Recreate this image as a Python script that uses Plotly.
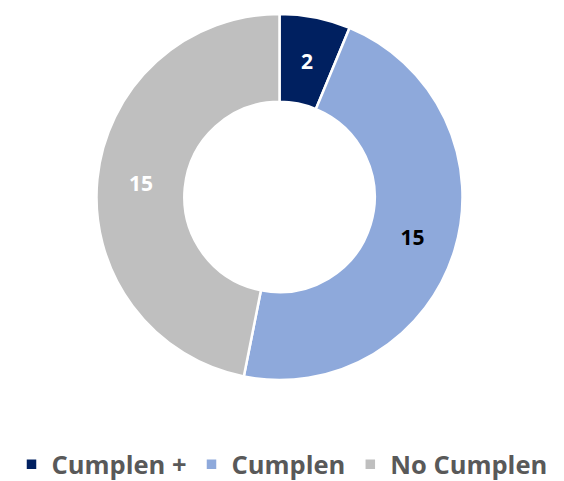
import math
import plotly.graph_objects as go

categories = ["Cumplen +", "Cumplen", "No Cumplen"]
values = [2, 15, 15]
colors = ["#002060", "#8EA9DB", "#BFBFBF"]
label_colors = ["#FFFFFF", "#000000", "#FFFFFF"]

W, H = 564, 481
MARGIN_T, MARGIN_B = 14, 101
DOMAIN_X = [96 / W, 463 / W]
HOLE = 0.52
LABEL_FONT = dict(family="Open Sans", size=21, weight="bold")

# The thin first slice gets its value drawn as an annotation at the middle of
# the ring (plotly would push it to the outer rim); the others use the trace text.
text_pos = ["none", "inside", "inside"]

fig = go.Figure(
    go.Pie(
        labels=categories,
        values=values,
        hole=HOLE,
        sort=False,
        direction="clockwise",
        rotation=0,
        domain=dict(x=DOMAIN_X, y=[0, 1]),
        marker=dict(colors=colors, line=dict(color="#FFFFFF", width=2.5)),
        textinfo="value",
        textposition=text_pos,
        insidetextorientation="horizontal",
        textfont=dict(color=label_colors, **LABEL_FONT),
        hoverinfo="label+value",
    )
)

# geometry of the ring in paper coordinates
plot_h = H - MARGIN_T - MARGIN_B
dom_w_px = (DOMAIN_X[1] - DOMAIN_X[0]) * W
radius_px = min(dom_w_px, plot_h) / 2
cx = (DOMAIN_X[0] + DOMAIN_X[1]) / 2
cy = 0.5
mid_r = radius_px * (1 + HOLE) / 2
total = sum(values)
theta = 2 * math.pi * (values[0] / 2) / total  # clockwise from 12 o'clock

fig.add_annotation(
    x=cx + mid_r * math.sin(theta) / W,
    y=cy + mid_r * math.cos(theta) / plot_h,
    xref="paper",
    yref="paper",
    text=str(values[0]),
    showarrow=False,
    font=dict(color=label_colors[0], **LABEL_FONT),
    xanchor="center",
    yanchor="middle",
)

fig.update_layout(
    width=W,
    height=H,
    margin=dict(l=0, r=0, t=MARGIN_T, b=MARGIN_B),
    paper_bgcolor="#FFFFFF",
    plot_bgcolor="#FFFFFF",
    showlegend=True,
    legend=dict(
        orientation="h",
        x=0.5,
        xanchor="center",
        yref="container",
        y=0.083,
        yanchor="top",
        font=dict(family="Open Sans", size=25.5, color="#595959", weight="bold"),
        itemwidth=30,
        traceorder="normal",
    ),
)

fig.write_html("out.html")
